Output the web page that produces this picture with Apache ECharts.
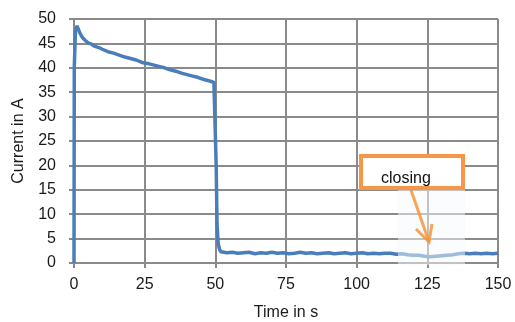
<!DOCTYPE html>
<html>
<head>
<meta charset="utf-8">
<script src="https://cdn.jsdelivr.net/npm/echarts@6/dist/echarts.min.js"></script>
<style>
  html, body { margin: 0; padding: 0; background: #fff; }
  #chart { width: 515px; height: 322px; }
</style>
</head>
<body>
<div id="chart"></div>
<script>
// time in s
const timeS = [
  0, 0.1, 0.5, 1, 1.5, 2, 3, 4, 5, 6, 7, 8, 9, 10, 12, 14, 16, 18, 20, 22, 24,
  26, 28, 30, 32, 34, 36, 38, 40, 42, 44, 46, 48, 49.5, 50, 50.3, 50.6, 51, 51.5,
  52, 54, 56, 58, 60, 62, 64, 66, 68, 70, 72, 74, 76, 78, 80, 82, 84, 86, 88, 90,
  92, 94, 96, 98, 100, 102, 104, 106, 108, 110, 112, 114, 116, 118, 120, 122, 124,
  126, 128, 130, 132, 134, 136, 138, 140, 142, 144, 146, 148, 150
]
// current in A
const currentA = [
  0, 40, 47.5, 48.6, 48.0, 47.2, 46.2, 45.6, 45.1, 44.9, 44.5, 44.3, 44.1, 43.8, 43.3, 43.0, 42.6, 42.2, 41.9, 41.6, 41.1,
  40.9, 40.6, 40.3, 40.0, 39.6, 39.3, 38.9, 38.6, 38.3, 38.0, 37.6, 37.3, 37.0, 36.8, 20, 8, 4, 2.8,
  2.3, 2.1, 2.2, 2.0, 2.1, 2.2, 1.9, 2.1, 2.0, 2.2, 2.0, 2.1, 1.9, 2.0, 2.2, 2.0, 2.1, 1.9, 2.0, 2.1,
  1.9, 2.0, 2.1, 1.9, 2.0, 2.1, 1.9, 2.0, 1.9, 2.0, 2.0, 1.8, 1.9, 1.7, 1.6, 1.6, 1.4,
  1.3, 1.4, 1.5, 1.6, 1.7, 1.9, 2.0, 1.9, 2.0, 1.9, 2.0, 1.9, 2.0
]
const xTicks = [0, 25, 50, 75, 100, 125, 150]
const yTicks = [0, 5, 10, 15, 20, 25, 30, 35, 40, 45, 50]

const points = timeS.map((t, i) => [t, currentA[i]])
const gridColor = '#8a8a8a'
const labelFont = { color: '#1a1a1a', fontSize: 16, fontFamily: 'Liberation Sans, Arial, sans-serif' }

const myChart = echarts.init(document.getElementById('chart'))
myChart.setOption({
  animation: false,
  grid: { left: 74, right: 17, top: 19, bottom: 59, containLabel: false, outerBoundsMode: 'none' },
  xAxis: {
    type: 'value',
    min: 0,
    max: 150,
    interval: 25,
    name: 'Time in s',
    nameLocation: 'middle',
    nameGap: 42,
    nameTextStyle: labelFont,
    axisLine: { show: true, lineStyle: { color: gridColor, width: 2 } },
    axisTick: { show: true, length: 5, lineStyle: { color: gridColor, width: 2 } },
    axisLabel: Object.assign({ margin: 14, formatter: v => xTicks.includes(v) ? String(v) : '' }, labelFont),
    splitLine: { show: true, lineStyle: { color: gridColor, width: 2 } }
  },
  yAxis: {
    type: 'value',
    min: 0,
    max: 50,
    interval: 5,
    name: 'Current in A',
    nameLocation: 'middle',
    nameGap: 47,
    nameTextStyle: labelFont,
    axisLine: { show: true, lineStyle: { color: gridColor, width: 2 } },
    axisTick: { show: true, length: 5, lineStyle: { color: gridColor, width: 2 } },
    axisLabel: Object.assign({ margin: 18, formatter: v => yTicks.includes(v) ? String(v) : '' }, labelFont),
    splitLine: { show: true, lineStyle: { color: gridColor, width: 2 } }
  },
  series: [{
    type: 'line',
    data: points,
    showSymbol: false,
    lineStyle: { color: '#4a7ebb', width: 3.5 },
    z: 3
  }],
  graphic: [
    // pasted patch behind the arrow
    { type: 'rect', shape: { x: 398, y: 188, width: 67, height: 77 },
      style: { fill: 'rgba(246,249,252,0.5)' }, z: 10 },
    // annotation box
    { type: 'rect', shape: { x: 361, y: 156, width: 102, height: 32 },
      style: { fill: '#fff', stroke: '#f79646', lineWidth: 4 }, z: 11 },
    { type: 'text', left: 381, top: 171,
      style: { text: 'closing', fill: '#111', fontSize: 16, fontFamily: 'Liberation Sans, Arial, sans-serif' }, z: 12 },
    // arrow
    { type: 'line', shape: { x1: 411, y1: 190, x2: 429, y2: 242 },
      style: { stroke: 'rgba(245,150,60,0.85)', lineWidth: 3 }, z: 12 },
    { type: 'polyline', shape: { points: [[416, 229], [429, 242], [432, 224]] },
      style: { stroke: 'rgba(245,150,60,0.85)', lineWidth: 3, fill: null }, z: 12 }
  ]
})
window.addEventListener('resize', function() {
  myChart.resize()
})
</script>
</body>
</html>
